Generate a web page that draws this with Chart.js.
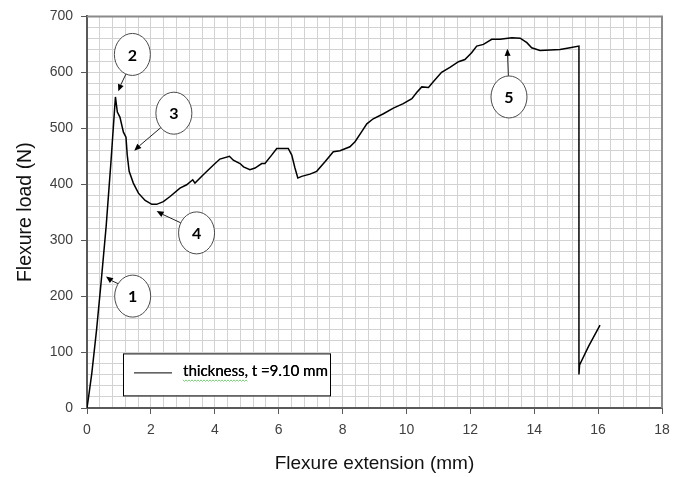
<!DOCTYPE html>
<html><head><meta charset="utf-8">
<script src="https://cdn.jsdelivr.net/npm/chart.js@4.4.1/dist/chart.umd.min.js"></script>
<style>html,body{margin:0;padding:0;background:#fff;}canvas{display:block;}</style>
</head><body>
<canvas id="c" width="686" height="477"></canvas>
<script>
// ---- data ----
const extension = [0,0.05,0.15,0.3,0.45,0.6,0.75,0.89,0.95,1.03,1.14,1.22,1.26,1.32,1.45,1.61,1.82,2.03,2.18,2.39,2.6,2.91,3.12,3.31,3.38,3.64,3.95,4.16,4.46,4.58,4.79,4.9,5.1,5.26,5.47,5.57,5.78,5.94,6.3,6.41,6.51,6.6,6.72,6.98,7.19,7.45,7.71,7.92,8.23,8.39,8.6,8.76,8.96,9.28,9.59,9.9,10.17,10.32,10.48,10.69,10.84,11.1,11.36,11.63,11.83,12.04,12.2,12.41,12.67,12.93,13.3,13.56,13.77,13.92,14.18,14.5,14.81,15.12,15.4,15.4,15.42,15.7,16.06];
const load = [0,20,62,140,230,325,440,556,529,520,493,484,452,423,402,384,371,364,364,369,378,393,399,408,402,417,434,445,450,443,437,431,426,429,437,437,452,464,464,452,429,411,414,418,423,440,458,460,467,476,494,508,517,526,536,544,553,564,574,573,583,600,609,619,623,635,647,650,659,659,662,661,653,644,639,640,641,644,647,60,77,110,148];
const seriesLabel = 'thickness, t =9.10 mm';
const xTickLabels = [0,2,4,6,8,10,12,14,16,18];
const yTickLabels = [0,100,200,300,400,500,600,700];
const xTitle = 'Flexure extension (mm)';
const yTitle = 'Flexure load (N)';
// callouts: number, circle centre (data units), arrow tip (data units)
const calloutText = ['1','2','3','4','5'];
const calloutCx = [1.43,1.42,2.72,3.43,13.21];
const calloutCy = [200,632,527,313,556];
const calloutTipX = [0.595,0.98,1.48,2.18,13.16];
const calloutTipY = [235,566,460,352,642];

const points = extension.map((x,i)=>({x:x,y:load[i]}));
const near = (v,arr)=>arr.some(a=>Math.abs(a-v)<1e-6);

const overlay = {
  id:'overlay',
  beforeDatasetsDraw(chart){
    const a = chart.chartArea, ctx = chart.ctx;
    ctx.save();
    ctx.strokeStyle = '#8a8a8a'; ctx.lineWidth = 2;
    ctx.beginPath();
    ctx.moveTo(a.left, a.top); ctx.lineTo(a.right, a.top); ctx.lineTo(a.right, a.bottom);
    ctx.stroke();
    ctx.restore();
  },
  afterDatasetsDraw(chart){
    const ctx = chart.ctx, xs = chart.scales.x, ys = chart.scales.y, a = chart.chartArea;
    ctx.save();
    const rx = 18, ry = 21;
    calloutText.forEach((t,i)=>{
      const cx = xs.getPixelForValue(calloutCx[i]), cy = ys.getPixelForValue(calloutCy[i]);
      const tx = xs.getPixelForValue(calloutTipX[i]), ty = ys.getPixelForValue(calloutTipY[i]);
      const ang = Math.atan2(ty-cy, tx-cx);
      const sx = cx + rx*Math.cos(ang), sy = cy + ry*Math.sin(ang);
      ctx.strokeStyle = '#222'; ctx.lineWidth = 1;
      const L = 7, W = 3;
      const bx = tx - L*Math.cos(ang), by = ty - L*Math.sin(ang);
      ctx.beginPath(); ctx.moveTo(sx,sy); ctx.lineTo(bx,by); ctx.stroke();
      ctx.fillStyle = '#000';
      ctx.beginPath();
      ctx.moveTo(tx,ty);
      ctx.lineTo(bx + W*Math.sin(ang), by - W*Math.cos(ang));
      ctx.lineTo(bx - W*Math.sin(ang), by + W*Math.cos(ang));
      ctx.closePath(); ctx.fill();
      ctx.beginPath(); ctx.ellipse(cx,cy,rx,ry,0,0,Math.PI*2);
      ctx.fillStyle = '#fff'; ctx.fill();
      ctx.strokeStyle = '#4a4a4a'; ctx.lineWidth = 1; ctx.stroke();
      ctx.fillStyle = '#000';
      ctx.font = 'bold 16px Lato, "Open Sans", sans-serif';
      ctx.textAlign = 'center'; ctx.textBaseline = 'middle';
      ctx.fillText(t, cx, cy+1);
    });
    // legend box
    const lx = a.left + 36, ly = a.top + 337, lw = 207, lh = 42;
    ctx.fillStyle = '#fff'; ctx.fillRect(lx,ly,lw,lh);
    ctx.strokeStyle = '#000'; ctx.lineWidth = 1;
    ctx.strokeRect(lx+0.5,ly+0.5,lw,lh);
    ctx.beginPath(); ctx.moveTo(lx+11, ly+19.5); ctx.lineTo(lx+49, ly+19.5); ctx.stroke();
    ctx.font = '15px Lato, "Open Sans", sans-serif';
    ctx.textAlign = 'left'; ctx.textBaseline = 'alphabetic';
    ctx.fillStyle = '#000';
    const tx0 = lx + 60, tyb = ly + 23;
    ctx.fillText(seriesLabel, tx0, tyb);
    ctx.fillText(seriesLabel, tx0+0.3, tyb);
    const w = ctx.measureText(seriesLabel.split(' ')[0]).width;
    ctx.strokeStyle = '#5cb85c'; ctx.lineWidth = 0.8;
    ctx.beginPath();
    for (let x = 0; x <= w; x += 1.5) {
      const y = tyb + 4 + ((Math.round(x/1.5))%2 ? 1 : -0.5);
      if (x === 0) ctx.moveTo(tx0+x,y); else ctx.lineTo(tx0+x,y);
    }
    ctx.stroke();
    ctx.restore();
  }
};

new Chart(document.getElementById('c'), {
  type:'line',
  data:{datasets:[{label:seriesLabel,data:points,borderColor:'#000',borderWidth:1.5,pointRadius:0,tension:0,fill:false}]},
  options:{
    responsive:false, animation:false,
    layout:{padding:{top:12,right:24,left:0,bottom:0}},
    plugins:{legend:{display:false},tooltip:{enabled:false}},
    scales:{
      x:{
        type:'linear', min:0, max:18,
        afterBuildTicks(s){ const t=[]; for(let k=0;k<=45;k++) t.push({value:Math.round(k*4)/10}); s.ticks=t; },
        afterFit(s){ s.height = 69; },
        ticks:{autoSkip:false,maxRotation:0,padding:8,color:'#404040',font:{family:'"Liberation Sans", Arial, sans-serif',size:14},
          callback:(v)=> near(v,xTickLabels) ? String(Math.round(v)) : ''},
        grid:{color:'#d2d2d2',lineWidth:1,tickLength:6,
          tickColor:(c)=> (c.tick && near(c.tick.value,xTickLabels)) ? '#595959' : 'rgba(0,0,0,0)'},
        border:{color:'#595959',width:2},
        title:{display:true,text:xTitle,color:'#111',font:{family:'"Liberation Sans", Arial, sans-serif',size:19},padding:{top:4,bottom:2}}
      },
      y:{
        type:'linear', min:0, max:700,
        afterBuildTicks(s){ const t=[]; for(let k=0;k<=35;k++) t.push({value:k*20}); s.ticks=t; },
        afterFit(s){ s.width = 87; },
        ticks:{autoSkip:false,padding:8,color:'#404040',font:{family:'"Liberation Sans", Arial, sans-serif',size:14},
          callback:(v)=> near(v,yTickLabels) ? String(v) : ''},
        grid:{color:'#d2d2d2',lineWidth:1,tickLength:6,
          tickColor:(c)=> (c.tick && near(c.tick.value,yTickLabels)) ? '#595959' : 'rgba(0,0,0,0)'},
        border:{color:'#595959',width:2},
        title:{display:true,text:yTitle,color:'#111',font:{family:'"Liberation Sans", Arial, sans-serif',size:19.5},padding:{top:14,bottom:4}}
      }
    }
  },
  plugins:[overlay]
});
</script>
</body></html>
